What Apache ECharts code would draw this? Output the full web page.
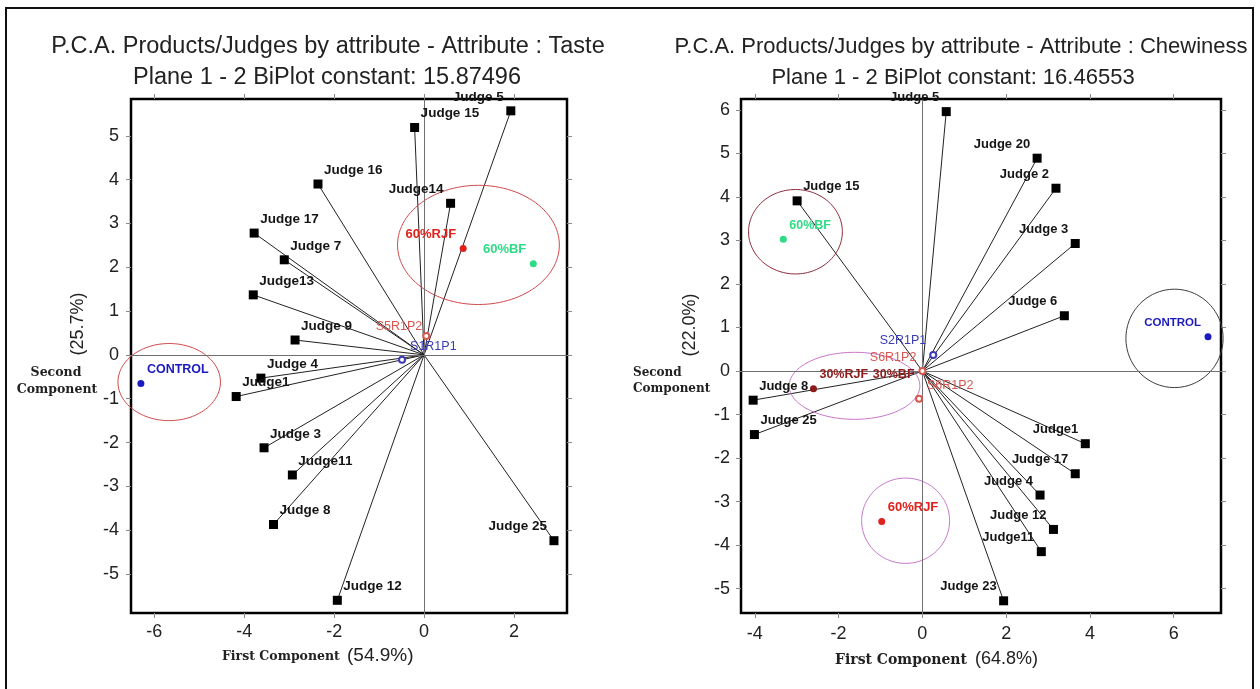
<!DOCTYPE html>
<html>
<head>
<meta charset="utf-8">
<title>P.C.A. Products/Judges by attribute</title>
<script src="https://cdn.jsdelivr.net/npm/echarts@6/dist/echarts.min.js"></script>
<style>
  html, body { margin: 0; padding: 0; background: #fff; }
  #chart { width: 1260px; height: 689px; }
</style>
</head>
<body>
<div id="chart"></div>
<script>
// ---------------- Taste biplot ----------------
const tasteJudgeNames = ['Judge 5', 'Judge 15', 'Judge 16', 'Judge14', 'Judge 17', 'Judge 7', 'Judge13', 'Judge 9',
  'Judge 4', 'Judge1', 'Judge 3', 'Judge11', 'Judge 8', 'Judge 12', 'Judge 25'];
const tasteJudgeX = [1.93, -0.21, -2.36, 0.59, -3.78, -3.11, -3.80, -2.87, -3.63, -4.18, -3.56, -2.93, -3.35, -1.93, 2.89];
const tasteJudgeY = [5.57, 5.19, 3.90, 3.46, 2.78, 2.17, 1.37, 0.34, -0.53, -0.95, -2.12, -2.74, -3.87, -5.60, -4.24];

const tasteProductNames = ['CONTROL', '60%RJF', '60%BF'];
const tasteProductX = [-6.30, 0.87, 2.43];
const tasteProductY = [-0.65, 2.43, 2.08];

const tasteSessionNames = ['S5R1P2', 'S1R1P1'];
const tasteSessionX = [0.05, -0.49];
const tasteSessionY = [0.43, -0.11];

const tasteEllipseCX = [-5.67, 1.21];
const tasteEllipseCY = [-0.62, 2.51];
const tasteEllipseRX = [1.14, 1.80];
const tasteEllipseRY = [0.88, 1.36];

const tasteXTicks = [-6, -4, -2, 0, 2];
const tasteYTicks = [-5, -4, -3, -2, -1, 0, 1, 2, 3, 4, 5];

// ---------------- Chewiness biplot ----------------
const chewJudgeNames = ['Judge 5', 'Judge 20', 'Judge 2', 'Judge 15', 'Judge 3', 'Judge 6', 'Judge 8', 'Judge 25',
  'Judge1', 'Judge 17', 'Judge 4', 'Judge 12', 'Judge11', 'Judge 23'];
const chewJudgeX = [0.57, 2.74, 3.19, -2.99, 3.65, 3.39, -4.04, -4.01, 3.89, 3.65, 2.81, 3.13, 2.84, 1.94];
const chewJudgeY = [5.96, 4.89, 4.20, 3.91, 2.93, 1.27, -0.67, -1.46, -1.67, -2.36, -2.85, -3.64, -4.15, -5.28];

const chewProductNames = ['CONTROL', '60%BF', '60%RJF', '30%RJF', '30%BF'];
const chewProductX = [6.82, -3.32, -0.97, -2.60, -0.02];
const chewProductY = [0.79, 3.03, -3.46, -0.41, -0.40];

const chewSessionNames = ['S2R1P1', 'S6R1P2', 'S6R1P2'];
const chewSessionX = [0.26, 0.00, -0.08];
const chewSessionY = [0.37, 0.00, -0.64];

const chewEllipseCX = [-3.03, -1.62, -0.40, 6.02];
const chewEllipseCY = [3.20, -0.34, -3.44, 0.75];
const chewEllipseRX = [1.12, 1.56, 1.05, 1.16];
const chewEllipseRY = [0.97, 0.77, 0.98, 1.13];

const chewXTicks = [-4, -2, 0, 2, 4, 6];
const chewYTicks = [-5, -4, -3, -2, -1, 0, 1, 2, 3, 4, 5, 6];

// ---------------- styling ----------------
const SANS = "'Liberation Sans', Arial, sans-serif";
const SERIF = "'DejaVu Serif', serif";
const BLUE = '#1a1ac0', RED = '#e0221c', GREEN = '#2fdc86', DARKRED = '#8e1b1b';
const SESSION_RED = '#d9574f', SESSION_BLUE = '#3b3bb5';

const productColors = {
  'CONTROL': BLUE, '60%RJF': RED, '60%BF': GREEN, '30%RJF': DARKRED, '30%BF': DARKRED
};
// products whose dot is hidden under the converging vectors (label only)
const hiddenDots = ['30%BF'];
// labels drawn to the left of their marker (text ends just before the marker)
const tasteLeftLabels = ['Judge 5', 'Judge14', 'Judge 25', '60%RJF', '60%BF'];
const chewLeftLabels = ['Judge 5', 'Judge 20', 'Judge 2', 'Judge 3', 'Judge 6', 'Judge1', 'Judge 17',
  'Judge 4', 'Judge 12', 'Judge11', 'Judge 23', 'CONTROL', '30%BF'];
const tasteSessionOffsets = [[-4, -10, 'right'], [8, -13, 'left']];
const chewSessionOffsets = [[-7, -14, 'right'], [-6, -13, 'right'], [8, -13, 'left']];
const tasteEllipseColors = ['#d0494a', '#d0494a'];
const chewEllipseColors = ['#8c2a3a', '#c676c8', '#c676c8', '#3a3a3a'];

function labeledItems(names, xs, ys, leftList) {
  return names.map((n, i) => {
    const onLeft = leftList.includes(n);
    return {
      name: n,
      value: [xs[i], ys[i]],
      label: { align: onLeft ? 'right' : 'left', offset: onLeft ? [-7, -14] : [6, -14] }
    };
  });
}

function judgeSeries(names, xs, ys, leftList, axis, fontSize) {
  return {
    type: 'scatter', xAxisIndex: axis, yAxisIndex: axis, z: 6, silent: true,
    symbol: 'rect', symbolSize: 9,
    itemStyle: { color: '#000', opacity: 1 },
    label: {
      show: true, position: 'inside', formatter: '{b}', verticalAlign: 'middle',
      fontFamily: SANS, fontWeight: 'bold', fontSize: fontSize, color: '#151515'
    },
    data: labeledItems(names, xs, ys, leftList),
    markLine: {
      silent: true, symbol: ['none', 'none'], label: { show: false },
      lineStyle: { color: '#707070', width: 1, type: 'solid' },
      data: [{ xAxis: 0 }, { yAxis: 0 }]
    }
  };
}

function productSeries(names, xs, ys, leftList, axis, sizes) {
  const items = labeledItems(names, xs, ys, leftList).map((it, i) => {
    it.itemStyle = { color: productColors[it.name], opacity: 1 };
    if (hiddenDots.includes(it.name)) it.symbolSize = 0;
    it.label.color = productColors[it.name];
    it.label.fontSize = sizes[i];
    return it;
  });
  return {
    type: 'scatter', xAxisIndex: axis, yAxisIndex: axis, z: 7, silent: true,
    symbol: 'circle', symbolSize: 7,
    label: {
      show: true, position: 'inside', formatter: '{b}', verticalAlign: 'middle',
      fontFamily: SANS, fontWeight: 'bold'
    },
    data: items
  };
}

function sessionSeries(names, xs, ys, colors, offsets, axis) {
  return {
    type: 'scatter', xAxisIndex: axis, yAxisIndex: axis, z: 5, silent: true,
    symbol: 'emptyCircle', symbolSize: 6,
    label: {
      show: true, position: 'inside', formatter: '{b}', verticalAlign: 'middle',
      fontFamily: SANS, fontSize: 12.5
    },
    data: names.map((n, i) => ({
      name: n, value: [xs[i], ys[i]],
      itemStyle: { color: colors[i], borderColor: colors[i], borderWidth: 1, opacity: 1 },
      label: { color: colors[i], align: offsets[i][2], offset: [offsets[i][0], offsets[i][1]] }
    }))
  };
}

function vectorSeries(xs, ys, axis) {
  return {
    type: 'lines', coordinateSystem: 'cartesian2d', xAxisIndex: axis, yAxisIndex: axis,
    z: 3, silent: true,
    lineStyle: { color: '#222', width: 1, opacity: 1 },
    data: xs.map((x, i) => ({ coords: [[0, 0], [x, ys[i]]] }))
  };
}

function ellipseSeries(cx, cy, rx, ry, colors, axis) {
  return {
    type: 'custom', xAxisIndex: axis, yAxisIndex: axis, clip: false, silent: true, z: 4,
    data: cx.map((c, i) => [c, cy[i], rx[i], ry[i], i]),
    encode: { x: 0, y: 1 },
    renderItem(params, api) {
      const c = api.coord([api.value(0), api.value(1)]);
      const e = api.coord([api.value(0) + api.value(2), api.value(1) + api.value(3)]);
      const ax = Math.abs(e[0] - c[0]), ay = Math.abs(e[1] - c[1]);
      const pts = [];
      for (let k = 0; k < 120; k++) {
        const t = k / 120 * Math.PI * 2;
        pts.push([c[0] + ax * Math.cos(t), c[1] + ay * Math.sin(t)]);
      }
      return {
        type: 'polygon', shape: { points: pts },
        style: { fill: 'none', stroke: colors[api.value(4)], lineWidth: 1 }
      };
    }
  };
}

function valueAxis(grid, position, min, max, ticks, withLabels, margin) {
  return {
    type: 'value', gridIndex: grid, position: position, min: min, max: max,
    axisLine: { show: false, onZero: false },
    splitLine: { show: false },
    axisTick: { show: true, inside: false, length: 5, customValues: ticks, lineStyle: { color: '#8a8a8a' } },
    axisLabel: {
      show: withLabels, customValues: ticks, margin: margin,
      fontFamily: SANS, fontSize: 18, color: '#222'
    }
  };
}

const option = {
  backgroundColor: '#fff',
  animation: false,
  grid: [
    { left: 131, top: 99, width: 436, height: 514, show: true, borderColor: '#000', borderWidth: 2.5, backgroundColor: 'transparent' },
    { left: 741, top: 99, width: 480, height: 514, show: true, borderColor: '#000', borderWidth: 2.5, backgroundColor: 'transparent' }
  ],
  xAxis: [
    valueAxis(0, 'bottom', -6.52, 3.18, tasteXTicks, true, 10),
    valueAxis(1, 'bottom', -4.33, 7.13, chewXTicks, true, 12),
    valueAxis(0, 'top', -6.52, 3.18, tasteXTicks, false, 8),
    valueAxis(1, 'top', -4.33, 7.13, chewXTicks, false, 8)
  ],
  yAxis: [
    valueAxis(0, 'left', -5.89, 5.84, tasteYTicks, true, 12),
    valueAxis(1, 'left', -5.56, 6.25, chewYTicks, true, 11),
    valueAxis(0, 'right', -5.89, 5.84, tasteYTicks, false, 8),
    valueAxis(1, 'right', -5.56, 6.25, chewYTicks, false, 8)
  ],
  series: [
    vectorSeries(tasteJudgeX, tasteJudgeY, 0),
    ellipseSeries(tasteEllipseCX, tasteEllipseCY, tasteEllipseRX, tasteEllipseRY, tasteEllipseColors, 0),
    sessionSeries(tasteSessionNames, tasteSessionX, tasteSessionY, [SESSION_RED, SESSION_BLUE], tasteSessionOffsets, 0),
    judgeSeries(tasteJudgeNames, tasteJudgeX, tasteJudgeY, tasteLeftLabels, 0, 13.5),
    productSeries(tasteProductNames, tasteProductX, tasteProductY, tasteLeftLabels, 0, [12.5, 13, 13]),

    vectorSeries(chewJudgeX, chewJudgeY, 1),
    ellipseSeries(chewEllipseCX, chewEllipseCY, chewEllipseRX, chewEllipseRY, chewEllipseColors, 1),
    sessionSeries(chewSessionNames, chewSessionX, chewSessionY, [SESSION_BLUE, SESSION_RED, SESSION_RED], chewSessionOffsets, 1),
    judgeSeries(chewJudgeNames, chewJudgeX, chewJudgeY, chewLeftLabels, 1, 13),
    productSeries(chewProductNames, chewProductX, chewProductY, chewLeftLabels, 1, [11.5, 12.5, 13, 12.5, 12.5])
  ],
  graphic: [
    // outer frame
    { type: 'rect', shape: { x: 6, y: 8, width: 1247, height: 700 }, style: { fill: 'none', stroke: '#111', lineWidth: 2 }, silent: true, z: 100 },
    // titles
    { type: 'text', x: 328, y: 47, style: { text: 'P.C.A. Products/Judges by attribute - Attribute : Taste', font: "23.5px " + SANS, fill: '#222', textAlign: 'center', textVerticalAlign: 'middle' } },
    { type: 'text', x: 327, y: 78, style: { text: 'Plane 1 - 2 BiPlot constant: 15.87496', font: "23.5px " + SANS, fill: '#222', textAlign: 'center', textVerticalAlign: 'middle' } },
    { type: 'text', x: 961, y: 47, style: { text: 'P.C.A. Products/Judges by attribute - Attribute : Chewiness', font: "22px " + SANS, fill: '#222', textAlign: 'center', textVerticalAlign: 'middle' } },
    { type: 'text', x: 953, y: 78, style: { text: 'Plane 1 - 2 BiPlot constant: 16.46553', font: "22px " + SANS, fill: '#222', textAlign: 'center', textVerticalAlign: 'middle' } },
    // left axis names
    { type: 'text', x: 78, y: 324, rotation: Math.PI / 2, style: { text: '(25.7%)', font: "18px " + SANS, fill: '#222', textAlign: 'center', textVerticalAlign: 'middle' } },
    { type: 'text', x: 56, y: 373, style: { text: 'Second', font: "bold 12.5px " + SERIF, fill: '#222', textAlign: 'center', textVerticalAlign: 'middle' } },
    { type: 'text', x: 57, y: 390, style: { text: 'Component', font: "bold 12.5px " + SERIF, fill: '#222', textAlign: 'center', textVerticalAlign: 'middle' } },
    { type: 'text', x: 222, y: 657, style: { text: 'First Component', font: "bold 12.5px " + SERIF, fill: '#222', textAlign: 'left', textVerticalAlign: 'middle' } },
    { type: 'text', x: 347, y: 656, style: { text: '(54.9%)', font: "19px " + SANS, fill: '#222', textAlign: 'left', textVerticalAlign: 'middle' } },
    // right axis names
    { type: 'text', x: 690, y: 325, rotation: Math.PI / 2, style: { text: '(22.0%)', font: "18px " + SANS, fill: '#222', textAlign: 'center', textVerticalAlign: 'middle' } },
    { type: 'text', x: 633, y: 373, style: { text: 'Second', font: "bold 12px " + SERIF, fill: '#222', textAlign: 'left', textVerticalAlign: 'middle' } },
    { type: 'text', x: 633, y: 389, style: { text: 'Component', font: "bold 12px " + SERIF, fill: '#222', textAlign: 'left', textVerticalAlign: 'middle' } },
    { type: 'text', x: 835, y: 660, style: { text: 'First Component', font: "bold 14px " + SERIF, fill: '#222', textAlign: 'left', textVerticalAlign: 'middle' } },
    { type: 'text', x: 975, y: 659, style: { text: '(64.8%)', font: "18px " + SANS, fill: '#222', textAlign: 'left', textVerticalAlign: 'middle' } }
  ]
};

const chart = echarts.init(document.getElementById('chart'));
chart.setOption(option);
</script>
</body>
</html>
